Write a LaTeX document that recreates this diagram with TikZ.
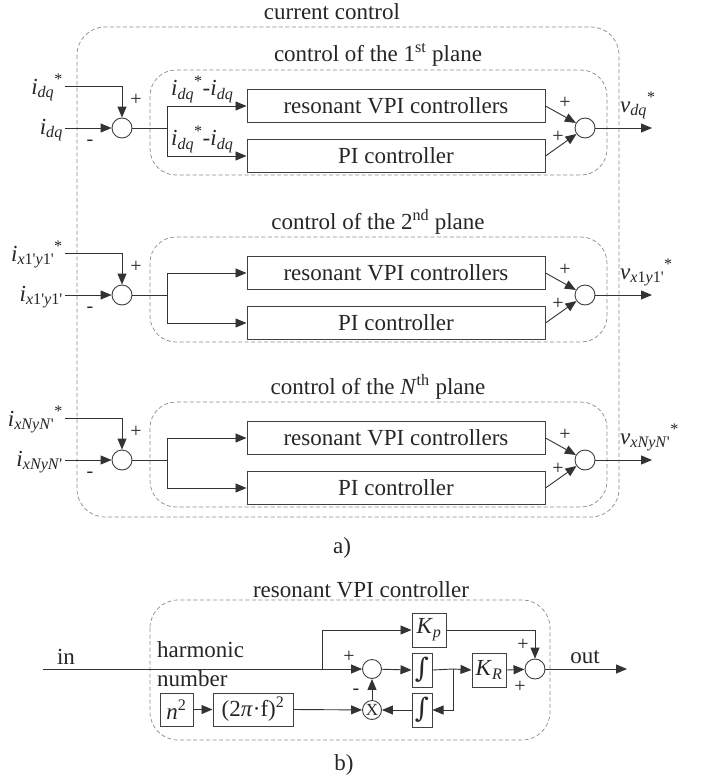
\documentclass[tikz,border=0pt]{standalone}
\usepackage{fontspec}
\setmainfont{Liberation Serif}
\newfontfamily\symf{DejaVu Serif}
\usetikzlibrary{arrows.meta}
\newcommand{\sig}[2]{\textit{#1}\textsubscript{\textit{#2}}}
\newcommand{\pr}{\textquotesingle}
\tikzset{
  every node/.style={font=\fontsize{23}{27}\selectfont, text=black!85},
  ln/.style={draw=black!80, line width=0.9pt},
  arr/.style={ln, -{Triangle[length=11pt,width=9pt]}},
  blk/.style={draw=black!75, line width=1pt, inner sep=0pt, minimum height=33pt},
  sumc/.style={draw=black!75, line width=0.9pt, circle, inner sep=0pt, minimum size=20pt},
  dbox/.style={draw=black!45, line width=0.7pt, dash pattern=on 4pt off 2.5pt, rounded corners=26pt},
  sgn/.style={font=\fontsize{20}{22}\selectfont, inner sep=0pt},
  lab/.style={inner sep=0pt},
  intb/.style={blk, minimum width=20pt, minimum height=34pt, font=\symf\fontsize{27}{27}\selectfont}
}
\newcommand{\plane}[6]{%
  \node (ttl#2) at (378,55+#1) {#3};
  \draw[dbox] (150,70+#1) rectangle (607,175+#1);
  \node[blk, minimum width=298pt] (vpi#2) at (396,106+#1) {resonant VPI controllers};
  \node[blk, minimum width=298pt] (pi#2) at (396,156+#1) {PI controller};
  \node[sumc] (sl#2) at (122,128+#1) {};
  \node[sumc] (sr#2) at (585,128+#1) {};
  \coordinate (ins#2) at (65,86+#1);
  \coordinate (inp#2) at (65,128+#1);
  \coordinate (br#2) at (167,128+#1);
  \coordinate (out#2) at (652,128+#1);
  \node[lab, anchor=base east] (lins#2) at (63,94+#1) {#4};
  \node[lab, anchor=base east] (linp#2) at (63,134+#1) {#5};
  \node[lab, anchor=base west] (lout#2) at (620,112+#1) {#6};
  \draw[arr] (ins#2) -| (sl#2);
  \draw[arr] (inp#2) -- (sl#2);
  \draw[ln] (sl#2) -- (br#2);
  \draw[arr] (br#2) |- (vpi#2.west);
  \draw[arr] (br#2) |- (pi#2.west);
  \draw[arr] (vpi#2.east) -- (sr#2);
  \draw[arr] (pi#2.east) -- (sr#2);
  \draw[arr] (sr#2) -- (out#2);
  \node[sgn] (pl#2) at (136,100+#1) {+};
  \node[sgn] (mi#2) at (90,143+#1) {-};
  \node[sgn] (pa#2) at (565,103+#1) {+};
  \node[sgn] (pb#2) at (558,137+#1) {+};
}
\begin{document}
\begin{tikzpicture}[x=1pt,y=-1pt]
\useasboundingbox[fill=white] (0,0) rectangle (702,779);
% ---------- part a ----------
\node (tcur) at (332,12) {current control};
\draw[dbox, rounded corners=28pt] (77,27) rectangle (619,517);
\plane{0}{1}{control of the 1\textsuperscript{st} plane}
  {\sig{i}{dq}\textsuperscript{*}}{\sig{i}{dq}}{\sig{v}{dq}\textsuperscript{*}}
\plane{167}{2}{control of the 2\textsuperscript{nd} plane}
  {\textit{i}\textsubscript{\textit{x}1\pr\textit{y}1\pr}\textsuperscript{*}}
  {\textit{i}\textsubscript{\textit{x}1\pr\textit{y}1\pr}}
  {\textit{v}\textsubscript{\textit{x}1\textit{y}1\pr}\textsuperscript{*}}
\plane{332}{3}{control of the \textit{N}\textsuperscript{th} plane}
  {\textit{i}\textsubscript{\textit{xNyN}\pr}\textsuperscript{*}}
  {\textit{i}\textsubscript{\textit{xNyN}\pr}}
  {\textit{v}\textsubscript{\textit{xNyN}\pr}\textsuperscript{*}}
\node[lab, anchor=south west] (e1) at (171,103)
  {\sig{i}{dq}\textsuperscript{*}-\sig{i}{dq}};
\node[lab, anchor=south west] (e2) at (171,153)
  {\sig{i}{dq}\textsuperscript{*}-\sig{i}{dq}};
\node (la) at (342,548) {a)};
% ---------- part b ----------
\draw[dbox, rounded corners=28pt] (150,600) rectangle (550,740);
\node (tb) at (361,590) {resonant VPI controller};
\coordinate (inb) at (43,669);
\node (lin) at (66,657) {in};
\node[lab, anchor=west] (harm) at (157,650) {harmonic};
\node[lab, anchor=west] (numb) at (157,679) {number};
\node[blk, minimum width=33pt] (n2) at (176.5,709.5) {\textit{n}\textsuperscript{2}};
\node[blk, minimum width=80pt] (fb) at (253,709.5) {(2\textit{π}·f)\textsuperscript{2}};
\node[sumc, minimum size=19pt] (sb) at (372,669) {};
\coordinate (bj) at (322,669);
\node[blk, minimum width=34pt, minimum height=34pt] (kp) at (429,630) {\sig{K}{p}};
\node[intb] (i1) at (422,670) {∫};
\node[intb] (i2) at (422,710) {∫};
\node[sumc, minimum size=19pt, font=\fontsize{17}{17}\selectfont] (xm) at (372,710) {X};
\node[blk, minimum width=34pt, minimum height=34pt] (kr) at (489,670) {\sig{K}{R}};
\node[sumc] (srb) at (535,669) {};
\coordinate (j2) at (453,669);
\coordinate (outb) at (627,669);
\node (lout) at (585,657) {out};
\draw[arr] (inb) -- (sb);
\draw[arr] (bj) |- (kp.west);
\draw[arr] (kp.east) -| (srb);
\draw[arr] (sb) -- (i1.west);
\draw[ln] (i1.east) -- (j2);
\draw[arr] (j2) -- (kr.west);
\draw[arr] (j2) |- (i2.east);
\draw[arr] (i2.west) -- (xm);
\draw[arr] (xm) -- (sb);
\draw[arr] (n2.east) -- (fb.west);
\draw[arr] (fb.east) -- (xm);
\draw[arr] (kr.east) -- (srb);
\draw[arr] (srb) -- (outb);
\node[sgn] (s1) at (349,657) {+};
\node[sgn] (s2) at (356,692) {-};
\node[sgn] (s3) at (523,645) {+};
\node[sgn] (s4) at (520,687) {+};
\node (lb) at (344,765) {b)};
\end{tikzpicture}
\end{document}
